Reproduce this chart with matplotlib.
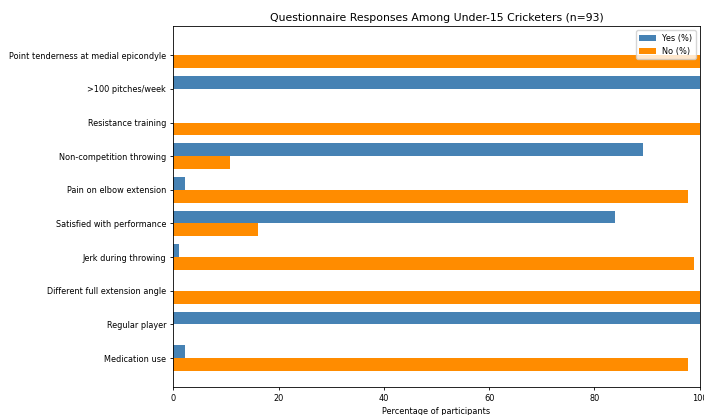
import numpy as np
from matplotlib import pyplot as plt

questions = [
    "Point tenderness at medial epicondyle",
    ">100 pitches/week",
    "Resistance training",
    "Non-competition throwing",
    "Pain on elbow extension",
    "Satisfied with performance",
    "Jerk during throwing",
    "Different full extension angle",
    "Regular player",
    "Medication use",
]
yes_pct = [0.0, 100.0, 0.0, 89.2, 2.15, 83.9, 1.08, 0.0, 100.0, 2.15]
no_pct = [100.0, 0.0, 100.0, 10.8, 97.85, 16.1, 98.92, 100.0, 0.0, 97.85]

fig, ax = plt.subplots(figsize=(7.04, 4.15), dpi=100)
fig.subplots_adjust(left=0.246, right=0.994, top=0.937, bottom=0.067)

h = 0.38
ys = np.arange(len(questions))[::-1]
ax.barh(ys + h / 2, yes_pct, height=h, color="steelblue", label="Yes (%)")
ax.barh(ys - h / 2, no_pct, height=h, color="darkorange", label="No (%)")

ax.set_yticks(ys, questions, fontsize=5.9)
ax.tick_params(axis="x", labelsize=5.9)
ax.tick_params(length=2.5, width=0.6, pad=2.5)
for s in ax.spines.values():
    s.set_linewidth(0.6)
ax.set_xlim(0, 100)
ax.set_xlabel("Percentage of participants", fontsize=5.9, labelpad=2.5)
ax.set_title("Questionnaire Responses Among Under-15 Cricketers (n=93)", fontsize=7.8, pad=4)
ax.legend(loc="upper right", fontsize=5.9)

fig.savefig("out.png")
